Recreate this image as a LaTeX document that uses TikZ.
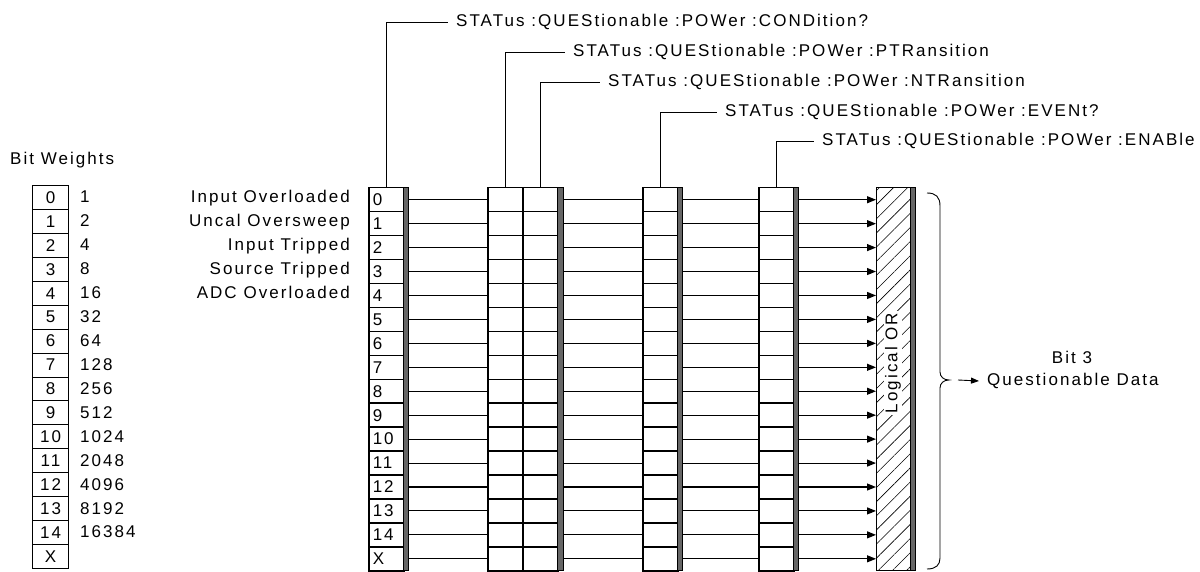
\documentclass[tikz,border=0pt]{standalone}
\usepackage{fontspec}
\setmainfont{Liberation Sans}[LetterSpace=12]
\usetikzlibrary{arrows.meta,patterns.meta,calc}
\begin{document}
\begin{tikzpicture}[x=1pt,y=-1pt,
  every node/.style={font=\fontsize{17}{20}\selectfont},
  txt/.style={inner sep=0pt},
  toplbl/.style={anchor=west, inner xsep=8pt, inner ysep=0pt},
  cell/.style={draw, line width=1.5pt, minimum width=35pt, minimum height=23.94pt, inner sep=0pt, anchor=north west},
  cellA/.style={cell, text width=27pt, align=left, inner xsep=4pt},
  wcell/.style={draw, line width=1pt, minimum width=36pt, minimum height=23.94pt, inner sep=0pt, anchor=north west},
  bar/.style={fill=black!60, draw=black, line width=0.6pt, minimum height=383pt, inner sep=0pt, anchor=north west},
  wire/.style={line width=1.1pt},
  lead/.style={line width=0.9pt},
  tip/.style={-{Triangle[length=9pt,width=7pt]}},
]
\useasboundingbox (0,0) rectangle (1200,572);

% Bit weights table
\node[txt, anchor=west] (bw) at (10,160) {Bit Weights};
\foreach \i/\w in {0/1,1/2,2/4,3/8,4/16,5/32,6/64,7/128,8/256,9/512,10/1024,11/2048,12/4096,13/8192,14/16384} {
  \node[wcell] (w\i) at (32,{185+\i*23.94}) {\i};
  \node[txt, anchor=west] (wv\i) at (80,{185+(\i+0.5)*23.94}) {\w};
}
\node[wcell] (w15) at (32,{185+15*23.94}) {X};

% registers
\foreach \i/\t in {0/0,1/1,2/2,3/3,4/4,5/5,6/6,7/7,8/8,9/9,10/10,11/11,12/12,13/13,14/14,15/X} {
  \node[cellA] (a\i) at (368,{187+\i*23.94}) {\t};
  \node[cell] (p\i) at (487,{187+\i*23.94}) {};
  \node[cell] (n\i) at (522,{187+\i*23.94}) {};
  \node[cell] (e\i) at (642,{187+\i*23.94}) {};
  \node[cell] (en\i) at (758,{187+\i*23.94}) {};
}
\node[bar, minimum width=5pt] (barA) at (403,187) {};
\node[bar, minimum width=6pt] (barN) at (557,187) {};
\node[bar, minimum width=5pt] (barE) at (677,187) {};
\node[bar, minimum width=5pt] (barEn) at (793,187) {};

% Logical OR
\node[draw, line width=1.5pt, minimum width=34pt, minimum height=383pt, inner sep=0pt, anchor=north west,
      pattern={Lines[angle=45,distance=10pt,line width=0.6pt]}] (or) at (876,187) {};
\node[bar, minimum width=5pt] (barOr) at (910,187) {};
\node[txt, rotate=90, fill=white, inner sep=1.5pt] (orl) at (893,363) {Logical OR};

% wires
\foreach \i in {0,...,15} {
  \draw[wire] (a\i.east -| barA.east) -- (p\i.west);
  \draw[wire] (n\i.east -| barN.east) -- (e\i.west);
  \draw[wire] (e\i.east -| barE.east) -- (en\i.west);
  \draw[wire, tip] (en\i.east -| barEn.east) -- (en\i.east -| or.west);
}

% input labels
\foreach \i/\t in {0/Input Overloaded,1/Uncal Oversweep,2/Input Tripped,3/Source Tripped,4/ADC Overloaded} {
  \node[txt, anchor=mid east] (l\i) at (350,{187+(\i+0.5)*23.94+1}) {\t};
}

% top command labels
\node[toplbl] (tc) at (448,22) {STATus :QUEStionable :POWer :CONDition?};
\node[toplbl] (tp) at (565,52) {STATus :QUEStionable :POWer :PTRansition};
\node[toplbl] (tn) at (600,82) {STATus :QUEStionable :POWer :NTRansition};
\node[toplbl] (te) at (717,112) {STATus :QUEStionable :POWer :EVENt?};
\node[toplbl] (ten) at (814,141) {STATus :QUEStionable :POWer :ENABle};
\draw[lead] (a0.north) |- (tc.west);
\draw[lead] (p0.north) |- (tp.west);
\draw[lead] (n0.north) |- (tn.west);
\draw[lead] (e0.north) |- (te.west);
\draw[lead] (en0.north) |- (ten.west);

% brace and output
\draw[lead] (927,193) .. controls (936,193) and (940,197) .. (940,206) -- (940,372)
  .. controls (940,377) and (944,380) .. (949,380)
  .. controls (944,380) and (940,383) .. (940,388) -- (940,558)
  .. controls (940,565) and (936,569) .. (927,569);
\coordinate (arrs) at (958,380);
\node[txt, anchor=west, inner xsep=8pt] (qd) at (979,381) {Questionable Data};
\node[txt] (b3) at (1072,357) {Bit 3};
\draw[lead, -{Triangle[length=8pt,width=6pt]}] (arrs) -- (qd.west);
\end{tikzpicture}
\end{document}
